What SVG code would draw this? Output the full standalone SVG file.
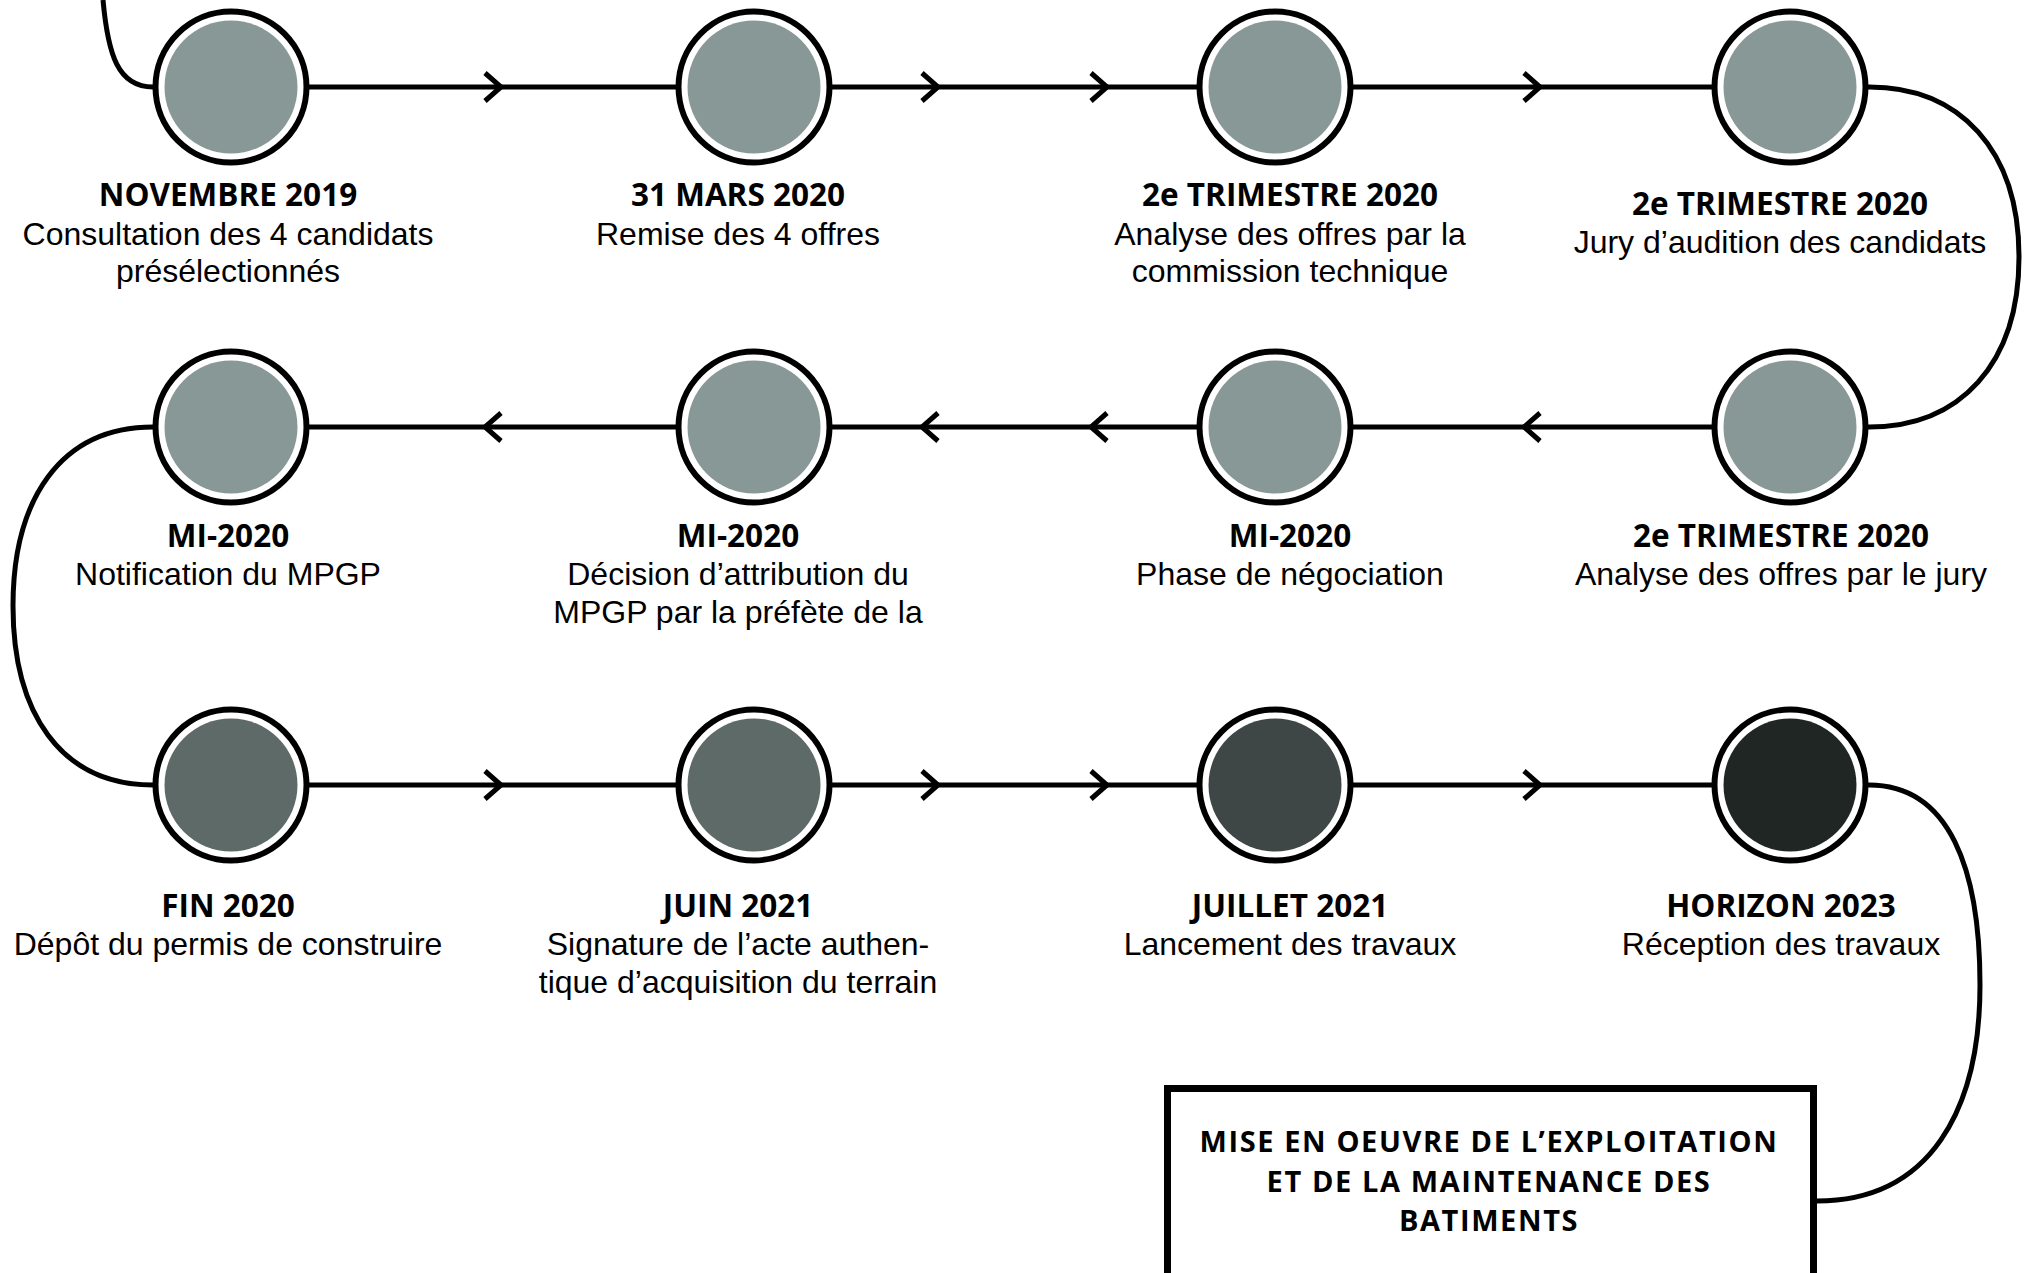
<svg xmlns="http://www.w3.org/2000/svg" width="2027" height="1273" viewBox="0 0 2027 1273">
<style>
.bg{fill:#ffffff}
.ln{fill:none;stroke:#000;stroke-width:5}
.chev{fill:none;stroke:#000;stroke-width:5;stroke-linejoin:miter;stroke-linecap:butt}
.ring{fill:#fff;stroke:#000;stroke-width:6}
.c1{fill:#889896}
.c2{fill:#5e6a68}
.c3{fill:#3e4745}
.c4{fill:#1f2624}
.t{font-family:"Open Sans","Noto Sans","DejaVu Sans",sans-serif;font-weight:700;font-size:31.5px;fill:#000;text-anchor:middle}
.bt{font-family:"Open Sans","Noto Sans","DejaVu Sans",sans-serif;font-weight:700;font-size:29px;letter-spacing:1.6px;fill:#000;text-anchor:middle}
.b{font-family:"Liberation Sans",Arial,sans-serif;font-size:32px;fill:#000;text-anchor:middle}
.box{fill:#fff;stroke:#000;stroke-width:7}
</style>
<defs>
<polyline id="cr" class="chev" points="-8,-14 8,0 -8,14"/>
<polyline id="cl" class="chev" points="8,-14 -8,0 8,14"/>
</defs>
<rect class="bg" x="0" y="0" width="2027" height="1273"/>
<g id="connectors">
<path class="ln" d="M103 0 C108 55 118 87 153 87"/>
<line class="ln" x1="153" y1="87" x2="1869" y2="87"/>
<path class="ln" d="M1869 87 C1960 87 2019 150 2019 257 C2019 364 1960 427 1869 427"/>
<line class="ln" x1="153" y1="427" x2="1869" y2="427"/>
<path class="ln" d="M153 427 C60 427 13 500 13 606 C13 712 60 785 153 785"/>
<line class="ln" x1="153" y1="785" x2="1869" y2="785"/>
<path class="ln" d="M1869 785 C1950 785 1980 870 1980 985 C1980 1110 1930 1201 1817 1201"/>
<use href="#cr" x="493" y="87"/>
<use href="#cr" x="930" y="87"/>
<use href="#cr" x="1099" y="87"/>
<use href="#cr" x="1532" y="87"/>
<use href="#cl" x="493" y="427"/>
<use href="#cl" x="930" y="427"/>
<use href="#cl" x="1099" y="427"/>
<use href="#cl" x="1532" y="427"/>
<use href="#cr" x="493" y="785"/>
<use href="#cr" x="930" y="785"/>
<use href="#cr" x="1099" y="785"/>
<use href="#cr" x="1532" y="785"/>
</g>
<g id="n1">
<circle class="ring" cx="231" cy="87" r="75.5"/><circle class="c1" cx="231" cy="87" r="66.5"/>
<text class="t" x="228" y="206">NOVEMBRE 2019</text>
<text class="b" x="228" y="245">Consultation des 4 candidats</text>
<text class="b" x="228" y="282">présélectionnés</text>
</g>
<g id="n2">
<circle class="ring" cx="754" cy="87" r="75.5"/><circle class="c1" cx="754" cy="87" r="66.5"/>
<text class="t" x="738" y="206">31 MARS 2020</text>
<text class="b" x="738" y="245">Remise des 4 offres</text>
</g>
<g id="n3">
<circle class="ring" cx="1275" cy="87" r="75.5"/><circle class="c1" cx="1275" cy="87" r="66.5"/>
<text class="t" x="1290" y="206">2e TRIMESTRE 2020</text>
<text class="b" x="1290" y="245">Analyse des offres par la</text>
<text class="b" x="1290" y="282">commission technique</text>
</g>
<g id="n4">
<circle class="ring" cx="1790" cy="87" r="75.5"/><circle class="c1" cx="1790" cy="87" r="66.5"/>
<text class="t" x="1780" y="215">2e TRIMESTRE 2020</text>
<text class="b" x="1780" y="253">Jury d’audition des candidats</text>
</g>
<g id="n5">
<circle class="ring" cx="1790" cy="427" r="75.5"/><circle class="c1" cx="1790" cy="427" r="66.5"/>
<text class="t" x="1781" y="547">2e TRIMESTRE 2020</text>
<text class="b" x="1781" y="585">Analyse des offres par le jury</text>
</g>
<g id="n6">
<circle class="ring" cx="1275" cy="427" r="75.5"/><circle class="c1" cx="1275" cy="427" r="66.5"/>
<text class="t" x="1290" y="547">MI-2020</text>
<text class="b" x="1290" y="585">Phase de négociation</text>
</g>
<g id="n7">
<circle class="ring" cx="754" cy="427" r="75.5"/><circle class="c1" cx="754" cy="427" r="66.5"/>
<text class="t" x="738" y="547">MI-2020</text>
<text class="b" x="738" y="585">Décision d’attribution du</text>
<text class="b" x="738" y="623">MPGP par la préfète de la</text>
</g>
<g id="n8">
<circle class="ring" cx="231" cy="427" r="75.5"/><circle class="c1" cx="231" cy="427" r="66.5"/>
<text class="t" x="228" y="547">MI-2020</text>
<text class="b" x="228" y="585">Notification du MPGP</text>
</g>
<g id="n9">
<circle class="ring" cx="231" cy="785" r="75.5"/><circle class="c2" cx="231" cy="785" r="66.5"/>
<text class="t" x="228" y="917">FIN 2020</text>
<text class="b" x="228" y="955">Dépôt du permis de construire</text>
</g>
<g id="n10">
<circle class="ring" cx="754" cy="785" r="75.5"/><circle class="c2" cx="754" cy="785" r="66.5"/>
<text class="t" x="738" y="917">JUIN 2021</text>
<text class="b" x="738" y="955">Signature de l’acte authen-</text>
<text class="b" x="738" y="993">tique d’acquisition du terrain</text>
</g>
<g id="n11">
<circle class="ring" cx="1275" cy="785" r="75.5"/><circle class="c3" cx="1275" cy="785" r="66.5"/>
<text class="t" x="1290" y="917">JUILLET 2021</text>
<text class="b" x="1290" y="955">Lancement des travaux</text>
</g>
<g id="n12">
<circle class="ring" cx="1790" cy="785" r="75.5"/><circle class="c4" cx="1790" cy="785" r="66.5"/>
<text class="t" x="1781" y="917">HORIZON 2023</text>
<text class="b" x="1781" y="955">Réception des travaux</text>
</g>
<g id="n13">
<rect class="box" x="1167.5" y="1088.5" width="646" height="210"/>
<text class="bt" x="1489" y="1152">MISE EN OEUVRE DE L’EXPLOITATION</text>
<text class="bt" x="1489" y="1191.5">ET DE LA MAINTENANCE DES</text>
<text class="bt" x="1489" y="1231">BATIMENTS</text>
</g>
</svg>
